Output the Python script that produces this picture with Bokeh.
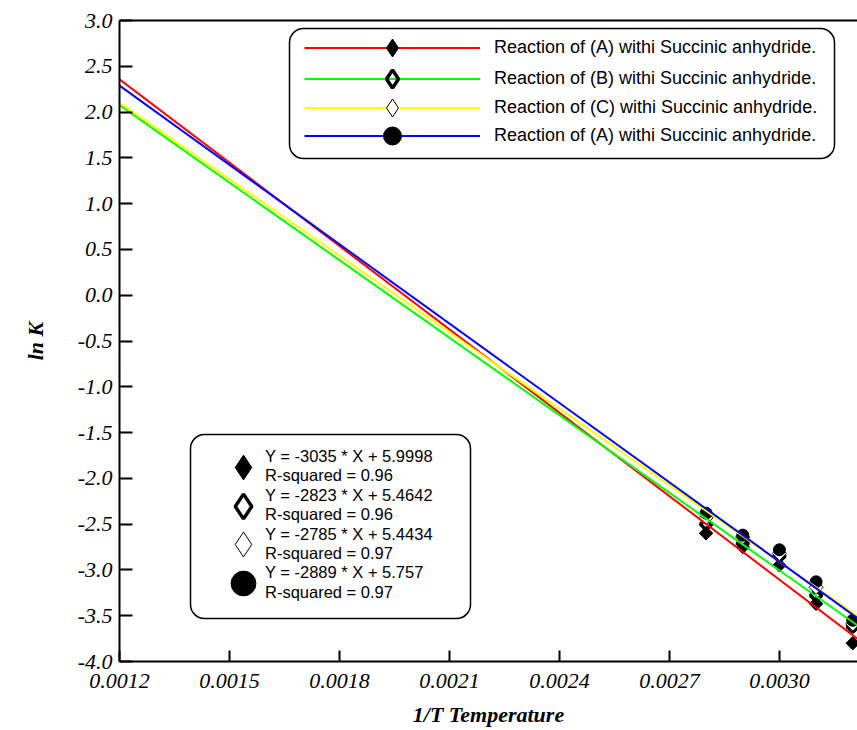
from bokeh.plotting import figure
from bokeh.models import (Legend, LegendItem, LinearAxis, FixedTicker,
                          PrintfTickFormatter, BoxAnnotation, Range1d)
from bokeh.embed import file_html
from bokeh.resources import INLINE

# ---- data ----
inv_T = [0.0028, 0.0029, 0.0030, 0.0031, 0.0032]
lnk_A = [-2.60, -2.75, -2.95, -3.37, -3.80]
lnk_B = [-2.50, -2.71, -2.85, -3.28, -3.62]
lnk_C = [-2.43, -2.64, -2.82, -3.19, -3.59]
lnk_D = [-2.38, -2.62, -2.78, -3.13, -3.55]

fit_x = [0.0012, 0.0033]
fit_A = [2.358, -4.016]
fit_B = [2.076, -3.852]
fit_C = [2.101, -3.747]
fit_D = [2.290, -3.777]

series_labels = [
    "Reaction of (A) withi Succinic anhydride.",
    "Reaction of (B) withi Succinic anhydride.",
    "Reaction of (C) withi Succinic anhydride.",
    "Reaction of (A) withi Succinic anhydride.",
]
equations = [
    "Y = -3035 * X + 5.9998",
    "Y = -2823 * X + 5.4642",
    "Y = -2785 * X + 5.4434",
    "Y = -2889 * X + 5.757",
]
r_squared = ["R-squared = 0.96", "R-squared = 0.96",
             "R-squared = 0.97", "R-squared = 0.97"]

x_ticks = [0.0012, 0.0015, 0.0018, 0.0021, 0.0024, 0.0027, 0.0030]
y_ticks = [-4.0, -3.5, -3.0, -2.5, -2.0, -1.5, -1.0, -0.5,
           0.0, 0.5, 1.0, 1.5, 2.0, 2.5, 3.0]

line_colors = ["#ff0000", "#00ff00", "#ffff00", "#0000ff"]

SERIF = "Liberation Serif"
SANS = "Liberation Sans"
FRAME_LEFT = 119    # canvas x of the y axis
FRAME_BOTTOM = 661  # canvas y of the x axis

p = figure(width=857, height=730, output_backend="svg", toolbar_location=None,
           x_range=Range1d(0.0012, 0.003213), y_range=Range1d(-4.0, 3.0),
           min_border_left=FRAME_LEFT, min_border_right=0, min_border_top=20,
           min_border_bottom=69)
p.outline_line_color = None
p.grid.visible = False
p.background_fill_color = "white"
p.border_fill_color = "white"

# axes
for ax in (p.xaxis[0], p.yaxis[0]):
    ax.axis_line_width = 2
    ax.axis_line_color = "black"
    ax.major_tick_line_width = 2
    ax.major_tick_out = 0
    ax.minor_tick_line_color = None
    ax.major_label_text_font = SERIF
    ax.major_label_text_font_style = "italic"
    ax.major_label_text_font_size = "22px"
    ax.major_label_text_color = "black"
    ax.axis_label_text_font = SERIF
    ax.axis_label_text_font_style = "bold italic"
    ax.axis_label_text_font_size = "22px"
    ax.axis_label_text_color = "black"

p.xaxis.ticker = FixedTicker(ticks=x_ticks)
p.xaxis.formatter = PrintfTickFormatter(format="%.4f")
p.xaxis.major_tick_in = 11
p.xaxis.major_label_standoff = 12
p.xaxis.axis_label = "1/T Temperature"
p.xaxis.axis_label_standoff = 11

p.yaxis.ticker = FixedTicker(ticks=y_ticks)
p.yaxis.formatter = PrintfTickFormatter(format="%.1f")
p.yaxis.major_tick_in = 13
p.yaxis.major_label_standoff = 7
p.yaxis.axis_label = "ln K"
p.yaxis.axis_label_standoff = 27

top_axis = LinearAxis(ticker=FixedTicker(ticks=[]), major_tick_out=0, major_tick_in=0,
                      minor_tick_out=0, minor_tick_in=0, major_label_standoff=0,
                      major_label_text_font_size="0px", axis_line_width=2)
p.add_layout(top_axis, "above")

# data markers (diamonds = squares turned 45 degrees)
mk_A = p.scatter(inv_T, lnk_A, marker="square", angle=0.785398, size=9.5,
                 fill_color="black", line_color="black", line_width=1)
mk_B = p.scatter(inv_T, lnk_B, marker="square", angle=0.785398, size=8,
                 fill_color=None, line_color="black", line_width=3.5)
mk_C = p.scatter(inv_T, lnk_C, marker="square", angle=0.785398, size=10,
                 fill_color="white", line_color="black", line_width=1)
mk_D = p.scatter(inv_T, lnk_D, marker="circle", size=12,
                 fill_color="black", line_color="black", line_width=1)

# regression lines
ln_A = p.line(fit_x, fit_A, line_color=line_colors[0], line_width=2)
ln_B = p.line(fit_x, fit_B, line_color=line_colors[1], line_width=2)
ln_C = p.line(fit_x, fit_C, line_color=line_colors[2], line_width=2)
ln_D = p.line(fit_x, fit_D, line_color=line_colors[3], line_width=2)
lines = [ln_A, ln_B, ln_C, ln_D]

# legend key glyphs (the legend draws markers unrotated, so use diamond markers)
key_A = p.scatter(inv_T, lnk_A, marker="diamond", fill_color="black",
                  line_color="black", line_width=1, visible=False)
key_B = p.scatter(inv_T, lnk_B, marker="diamond", fill_color=None,
                  line_color="black", line_width=3.5, visible=False)
key_C = p.scatter(inv_T, lnk_C, marker="diamond", fill_color="white",
                  line_color="black", line_width=1, visible=False)
key_D = p.scatter(inv_T, lnk_D, marker="circle", fill_color="black",
                  line_color="black", line_width=1, visible=False)
keys = [key_A, key_B, key_C, key_D]
# empty key used for the text-only legend rows
blank_key = p.line(inv_T, lnk_A, line_alpha=0, visible=False)

# legend boxes (rounded)
box_kw = dict(left_units="screen", right_units="screen", top_units="screen",
              bottom_units="screen", fill_color="white", fill_alpha=1.0,
              line_color="black", line_width=1.5, line_alpha=1.0, border_radius=14)
top_box = BoxAnnotation(left=289 - FRAME_LEFT, right=834 - FRAME_LEFT,
                        bottom=FRAME_BOTTOM - 158, top=FRAME_BOTTOM - 28, **box_kw)
bot_box = BoxAnnotation(left=190 - FRAME_LEFT, right=470 - FRAME_LEFT,
                        bottom=FRAME_BOTTOM - 618, top=FRAME_BOTTOM - 434, **box_kw)
p.add_layout(top_box)
p.add_layout(bot_box)

legend_kw = dict(orientation="vertical", padding=0, spacing=0, margin=0,
                 label_text_font=SANS, label_text_color="black",
                 background_fill_alpha=0, border_line_color=None)

# top legend: one row per Legend so the key glyphs can be larger
top_rows_y = [47, 78, 107, 135]      # canvas y of each row centre
TOP_GH = 45
for i in range(4):
    lg = Legend(items=[LegendItem(label=series_labels[i],
                                  renderers=[lines[i], keys[i]])],
                location=(304 - FRAME_LEFT, FRAME_BOTTOM - top_rows_y[i] - TOP_GH / 2),
                glyph_width=176, glyph_height=TOP_GH, label_height=TOP_GH,
                label_standoff=14, label_text_font_size="18px", **legend_kw)
    p.add_layout(lg, "center")

# bottom legend: marker centred between the two text lines of each entry
FIRST_LINE_Y = 457
LINE_STEP = 19.4
BOT_GH = 62
for i in range(4):
    y_eq = FIRST_LINE_Y + LINE_STEP * (2 * i)
    y_r2 = FIRST_LINE_Y + LINE_STEP * (2 * i + 1)
    y_mid = (y_eq + y_r2) / 2
    key_lg = Legend(items=[LegendItem(label=" ", renderers=[keys[i]])],
                    location=(243 - BOT_GH / 2 - FRAME_LEFT,
                              FRAME_BOTTOM - y_mid - BOT_GH / 2),
                    glyph_width=BOT_GH, glyph_height=BOT_GH, label_height=10,
                    label_standoff=0, label_text_font_size="16.5px", **legend_kw)
    p.add_layout(key_lg, "center")
    for txt, ty in ((equations[i], y_eq), (r_squared[i], y_r2)):
        txt_lg = Legend(items=[LegendItem(label=txt, renderers=[blank_key])],
                        location=(264 - FRAME_LEFT, FRAME_BOTTOM - ty - 9),
                        glyph_width=1, glyph_height=18, label_height=18,
                        label_standoff=0, label_text_font_size="16.5px", **legend_kw)
        p.add_layout(txt_lg, "center")

open("out.html", "w").write(file_html(p, INLINE))
